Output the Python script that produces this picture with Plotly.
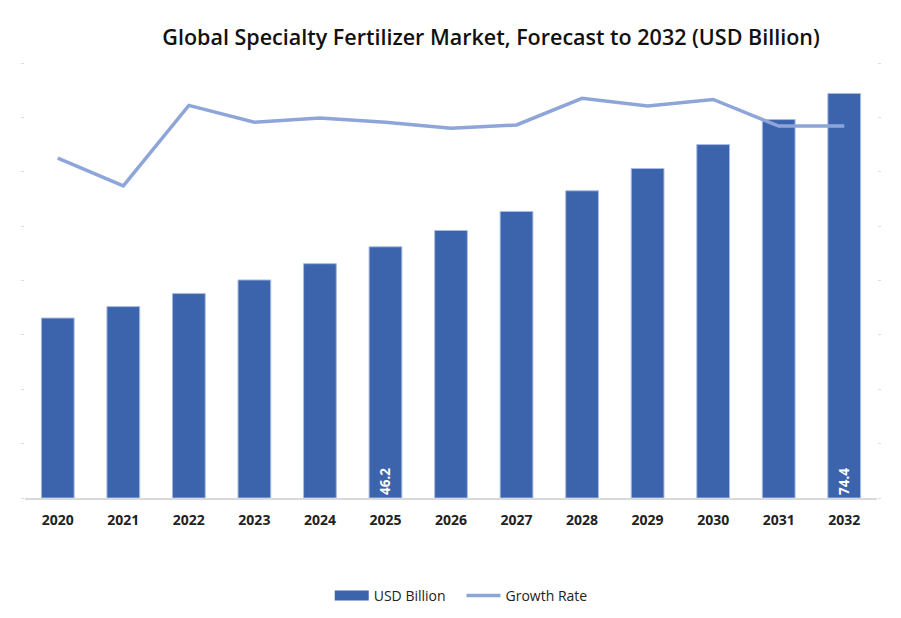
import plotly.graph_objects as go

years = ["2020", "2021", "2022", "2023", "2024", "2025", "2026",
         "2027", "2028", "2029", "2030", "2031", "2032"]
usd_billion = [33.1, 35.2, 37.6, 40.1, 43.1, 46.2, 49.2, 52.7, 56.5, 60.6, 65.0, 69.6, 74.4]
growth_rate = [6.25, 5.74, 7.22, 6.91, 6.99, 6.91, 6.80, 6.86, 7.35, 7.21, 7.33, 6.84, 6.84]
bar_labels = ["", "", "", "", "", "46.2", "", "", "", "", "", "", "74.4"]

BAR = "#3C64AD"
LINE = "#8EA5DA"
FONT = "Open Sans"

fig = go.Figure()
fig.add_trace(go.Bar(
    x=years, y=usd_billion, name="USD Billion", showlegend=False,
    marker=dict(color=BAR, line=dict(color="#A9BCE3", width=1)),
    width=0.5,
    text=bar_labels, textposition="inside", insidetextanchor="start",
    textangle=-90,
    textfont=dict(color="white", size=13.5, family=FONT, weight="bold"),
))
# legend swatch for the bars (wide rectangle like the reference)
fig.add_trace(go.Scatter(
    x=[None], y=[None], name="USD Billion   ", mode="lines",
    line=dict(color=BAR, width=12),
))
fig.add_trace(go.Scatter(
    x=years, y=growth_rate, name="Growth Rate", yaxis="y2",
    mode="lines", line=dict(color=LINE, width=3.5),
))

fig.update_layout(
    width=901, height=618,
    margin=dict(l=25, r=24, t=63, b=120, autoexpand=False),
    paper_bgcolor="white", plot_bgcolor="white",
    title=dict(
        text="Global Specialty Fertilizer Market, Forecast to 2032 (USD Billion)",
        x=0.545, xanchor="center", y=0.94, yanchor="middle",
        font=dict(family=FONT, size=21.5, color="#111111", weight=600),
    ),
    xaxis=dict(
        showline=True, linecolor="#D9D9D9", linewidth=1.5, automargin=False,
        showgrid=False, ticks="", ticklabelstandoff=8,
        tickfont=dict(family=FONT, size=14, color="#222222", weight="bold"),
    ),
    yaxis=dict(
        range=[0, 80], showgrid=False, showticklabels=False, automargin=False,
        ticks="outside", ticklen=3, tickcolor="#DDDDDD", dtick=10,
        zeroline=False,
    ),
    yaxis2=dict(
        range=[0, 8], overlaying="y", side="right", showgrid=False,
        showticklabels=False, ticks="outside", ticklen=3, tickcolor="#DDDDDD",
        dtick=1, zeroline=False, automargin=False,
    ),
    legend=dict(
        orientation="h", x=0.512, xanchor="center", y=-0.225, yanchor="middle",
        font=dict(family=FONT, size=14, color="#222222"),
        itemwidth=34, traceorder="normal",
    ),
    showlegend=True,
    bargap=0.5,
)

fig.write_html("out.html")
